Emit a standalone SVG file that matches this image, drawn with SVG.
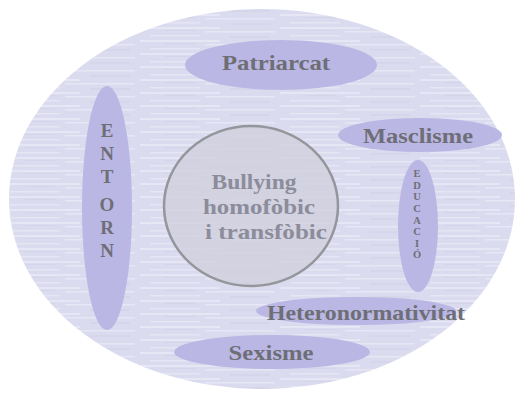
<svg xmlns="http://www.w3.org/2000/svg" width="520" height="394" viewBox="0 0 520 394">
<defs>
<pattern id="streaks" patternUnits="userSpaceOnUse" width="140" height="13">
<rect width="140" height="13" fill="#dbdbef"/>
<rect x="0" y="1" width="80" height="2" fill="#e9e9f6" opacity="0.8"/>
<rect x="65" y="5" width="70" height="1.5" fill="#ececf7" opacity="0.7"/>
<rect x="10" y="9" width="50" height="1.5" fill="#e7e7f4" opacity="0.8"/>
<rect x="90" y="10" width="40" height="2" fill="#d2d2e8" opacity="0.6"/>
<rect x="25" y="4" width="30" height="1" fill="#cfcfe5" opacity="0.5"/>
</pattern>
<style>
.oval{fill:#bbb7e4}
.lbl{font-family:"Liberation Serif","Times New Roman",serif;font-weight:bold;fill:#6e6e76;text-anchor:middle}
.mid{font-family:"Liberation Serif","Times New Roman",serif;font-weight:bold;fill:#8c8c9a;text-anchor:middle;font-size:22px}
</style>
</defs>
<ellipse cx="262" cy="199" rx="253" ry="190" fill="url(#streaks)"/>
<g id="connectors"/>
<g id="patriarcat">
<ellipse class="oval" cx="281" cy="65" rx="96" ry="25"/>
<text class="lbl" x="276" y="70" font-size="22" textLength="108" lengthAdjust="spacingAndGlyphs">Patriarcat</text>
</g>
<g id="masclisme">
<ellipse class="oval" cx="420" cy="135" rx="82" ry="17"/>
<text class="lbl" x="418" y="143" font-size="20" textLength="110" lengthAdjust="spacingAndGlyphs">Masclisme</text>
</g>
<g id="entorn">
<ellipse class="oval" cx="107" cy="208" rx="25" ry="122"/>
<text class="lbl" x="107" y="137" font-size="19">E</text>
<text class="lbl" x="107" y="160" font-size="19">N</text>
<text class="lbl" x="107" y="183" font-size="19">T</text>
<text class="lbl" x="107" y="211" font-size="19">O</text>
<text class="lbl" x="107" y="234" font-size="19">R</text>
<text class="lbl" x="107" y="257" font-size="19">N</text>
</g>
<g id="educacio">
<ellipse class="oval" cx="418" cy="226" rx="20" ry="66"/>
<text class="lbl" x="417" y="177" font-size="10.5">E</text>
<text class="lbl" x="417" y="188.5" font-size="10.5">D</text>
<text class="lbl" x="417" y="200" font-size="10.5">U</text>
<text class="lbl" x="417" y="212" font-size="10.5">C</text>
<text class="lbl" x="417" y="223.5" font-size="10.5">A</text>
<text class="lbl" x="417" y="235" font-size="10.5">C</text>
<text class="lbl" x="417" y="247" font-size="10.5">I</text>
<text class="lbl" x="417" y="258" font-size="10.5">Ó</text>
</g>
<g id="bullying">
<ellipse cx="251" cy="206" rx="87" ry="80" fill="#d0d0de" fill-opacity="0.85" stroke="#95959c" stroke-width="2.5"/>
<text class="mid" x="254" y="189" textLength="85" lengthAdjust="spacingAndGlyphs">Bullying</text>
<text class="mid" x="259" y="214" textLength="112" lengthAdjust="spacingAndGlyphs">homofòbic</text>
<text class="mid" x="266" y="239" textLength="122" lengthAdjust="spacingAndGlyphs">i transfòbic</text>
</g>
<g id="heteronormativitat">
<ellipse class="oval" cx="356" cy="311" rx="100" ry="14"/>
<text class="lbl" x="366" y="320" font-size="21" textLength="198" lengthAdjust="spacingAndGlyphs">Heteronormativitat</text>
</g>
<g id="sexisme">
<ellipse class="oval" cx="272" cy="352" rx="98" ry="17"/>
<text class="lbl" x="271" y="360" font-size="21" textLength="85" lengthAdjust="spacingAndGlyphs">Sexisme</text>
</g>
</svg>
